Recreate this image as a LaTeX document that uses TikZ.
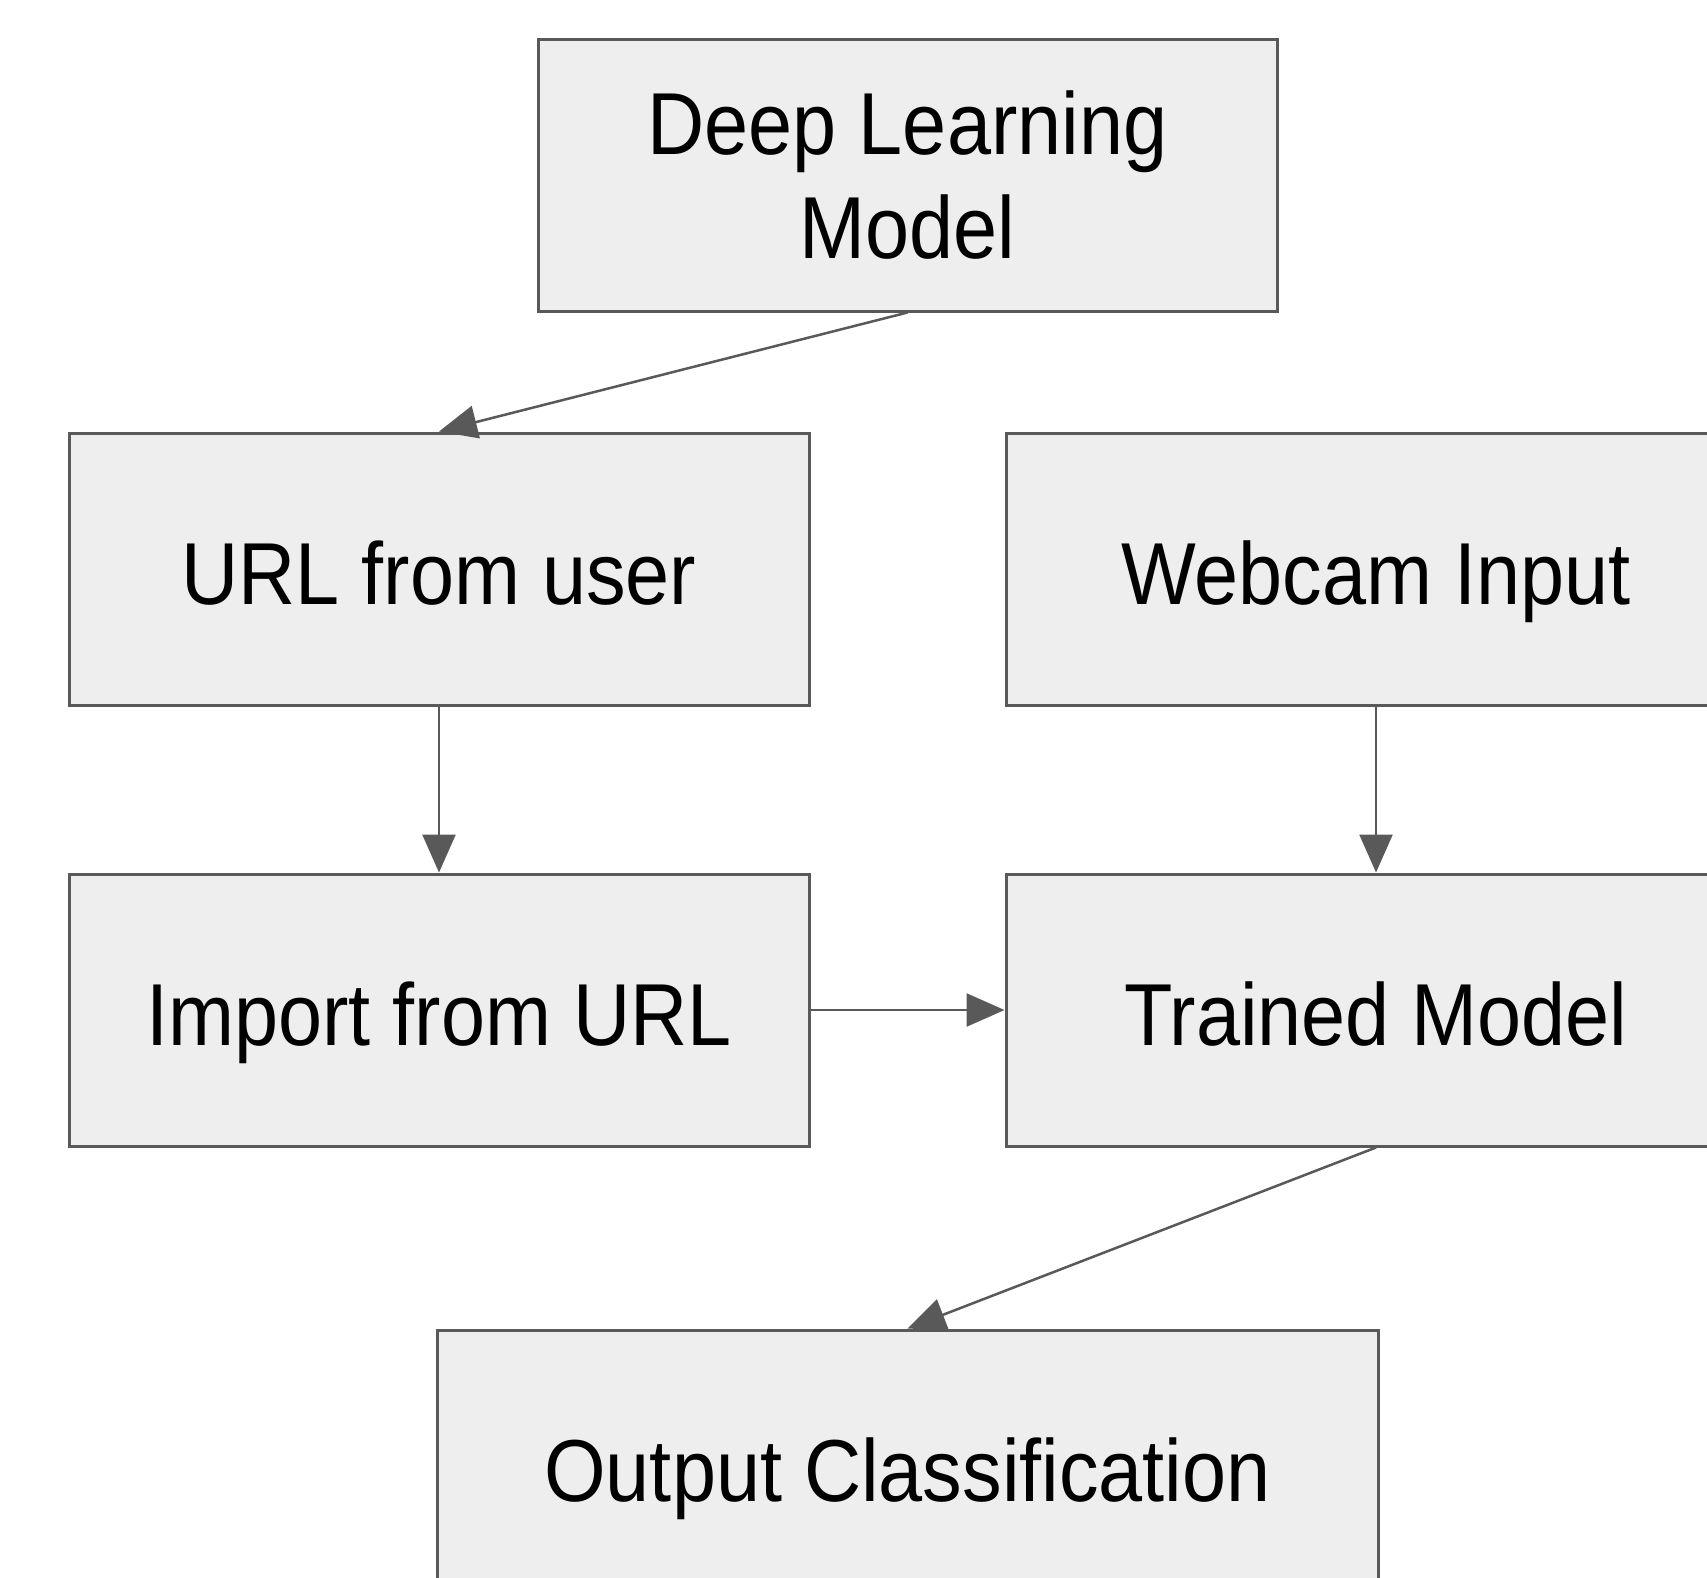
\documentclass[tikz,border=0pt]{standalone}
\usepackage{fontspec}
\setmainfont{Liberation Sans}[FakeStretch=0.9]
\usetikzlibrary{arrows.meta}
\definecolor{boxfill}{HTML}{EEEEEE}
\definecolor{boxline}{HTML}{595959}
\definecolor{arrowline}{HTML}{595959}
\tikzset{
  boxnode/.style={draw=boxline, fill=boxfill, line width=1.5pt, rectangle,
    inner sep=0pt, align=center, font=\fontsize{44pt}{52pt}\selectfont},
  singleline/.style={text height=40pt, text depth=5pt},
  flow/.style={draw=arrowline, line width=1.25pt,
    -{Triangle[length=19pt,width=16.5pt]}}
}
\begin{document}
\begin{tikzpicture}[x=0.5pt,y=-0.5pt]
\clip (0,0) rectangle (1707,1578);
\fill[white] (0,0) rectangle (1707,1578);
\node[boxnode, minimum width=369.5pt, minimum height=135.5pt] (dlm) at (907.5,175.5) {Deep Learning\\Model};
\node[boxnode, singleline, minimum width=370pt, minimum height=136pt] (url) at (439,569) {URL from user};
\node[boxnode, singleline, minimum width=370pt, minimum height=136pt] (web) at (1376,569) {Webcam Input};
\node[boxnode, singleline, minimum width=370pt, minimum height=136pt] (imp) at (439,1010) {Import from URL};
\node[boxnode, singleline, minimum width=370pt, minimum height=136pt] (trn) at (1376,1010) {Trained Model};
\node[boxnode, singleline, minimum width=470.5pt, minimum height=136pt] (out) at (907.5,1466) {Output Classification};
\draw[flow] (dlm.south) -- (url.north);
\draw[flow] (url.south) -- (imp.north);
\draw[flow] (web.south) -- (trn.north);
\draw[flow] (imp.east) -- (trn.west);
\draw[flow] (trn.south) -- (out.north);
\end{tikzpicture}
\end{document}
